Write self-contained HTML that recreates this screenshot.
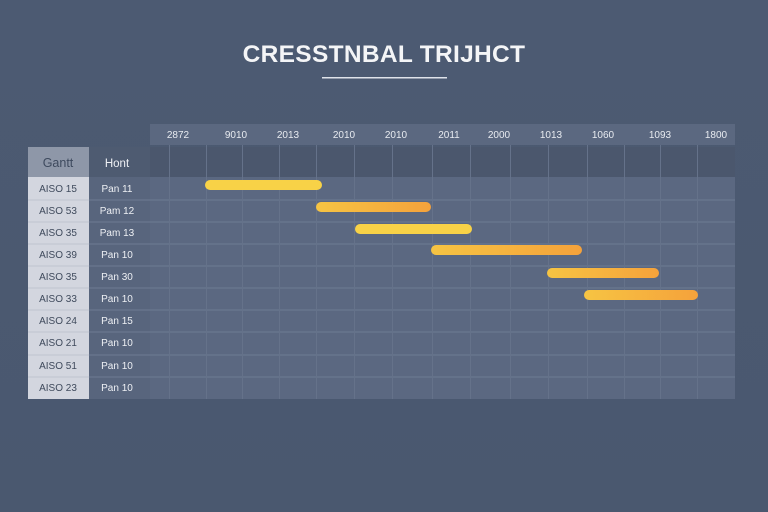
<!DOCTYPE html>
<html><head><meta charset="utf-8"><style>
html,body{margin:0;padding:0;background:#4b5a72;}
svg{display:block;}
text{font-family:"Liberation Sans",sans-serif;}
</style></head><body>
<svg width="768" height="512" viewBox="0 0 768 512" xmlns="http://www.w3.org/2000/svg">
<defs>
<linearGradient id="bg" x1="0" y1="0" x2="0" y2="1">
<stop offset="0" stop-color="#4c5a72"/><stop offset="1" stop-color="#4a586f"/>
</linearGradient>
<linearGradient id="og" x1="0" y1="0" x2="1" y2="0">
<stop offset="0" stop-color="#f6c443"/><stop offset="1" stop-color="#f5a23b"/>
</linearGradient>
</defs>
<rect width="768" height="512" fill="url(#bg)"/>
<text x="384" y="62" text-anchor="middle" font-size="24.5" font-weight="bold" fill="#f4f5f7" letter-spacing="0.3">CRESSTNBAL TRIJHCT</text>
<rect x="322" y="77" width="125" height="1.5" fill="#dfe3ea"/>
<!-- year header -->
<rect x="150" y="124" width="585" height="21" fill="#5b6880"/>
<g font-size="10" fill="#e8ebf0" text-anchor="middle">
<text x="178" y="138">2872</text><text x="236" y="138">9010</text><text x="288" y="138">2013</text>
<text x="344" y="138">2010</text><text x="396" y="138">2010</text><text x="449" y="138">2011</text>
<text x="499" y="138">2000</text><text x="551" y="138">1013</text><text x="603" y="138">1060</text>
<text x="660" y="138">1093</text><text x="716" y="138">1800</text>
</g>
<!-- header row -->
<rect x="28" y="147" width="61" height="30" fill="#8e97a8"/>
<rect x="89" y="147" width="61" height="30" fill="#4e5b71"/>
<rect x="150" y="147" width="585" height="30" fill="#4b576d"/>
<text x="58" y="167" text-anchor="middle" font-size="12.5" fill="#3e4a5e">Gantt</text>
<text x="117" y="167" text-anchor="middle" font-size="11.5" fill="#eef0f4">Hont</text>
<!-- data area -->
<rect x="28" y="177" width="61" height="222" fill="#d3d6df"/>
<rect x="89" y="177" width="61" height="222" fill="#58657d"/>
<rect x="150" y="177" width="585" height="222" fill="#5b6881"/>
<g stroke="#6e7b92" stroke-width="1">
<line x1="28" y1="200" x2="735" y2="200"/><line x1="28" y1="222" x2="735" y2="222"/>
<line x1="28" y1="244" x2="735" y2="244"/><line x1="28" y1="266" x2="735" y2="266"/>
<line x1="28" y1="288" x2="735" y2="288"/><line x1="28" y1="310" x2="735" y2="310"/>
<line x1="28" y1="332" x2="735" y2="332"/><line x1="28" y1="355" x2="735" y2="355"/>
<line x1="28" y1="377" x2="735" y2="377"/>
</g>
<g stroke="#bfc4cf" stroke-width="1">
<line x1="28" y1="200" x2="89" y2="200"/><line x1="28" y1="222" x2="89" y2="222"/>
<line x1="28" y1="244" x2="89" y2="244"/><line x1="28" y1="266" x2="89" y2="266"/>
<line x1="28" y1="288" x2="89" y2="288"/><line x1="28" y1="310" x2="89" y2="310"/>
<line x1="28" y1="332" x2="89" y2="332"/><line x1="28" y1="355" x2="89" y2="355"/>
<line x1="28" y1="377" x2="89" y2="377"/>
</g>
<g stroke="#65728a" stroke-width="1">
<line x1="169.5" y1="145" x2="169.5" y2="399"/><line x1="206.5" y1="145" x2="206.5" y2="399"/>
<line x1="242.5" y1="145" x2="242.5" y2="399"/><line x1="279.5" y1="145" x2="279.5" y2="399"/>
<line x1="316.5" y1="145" x2="316.5" y2="399"/><line x1="354.5" y1="145" x2="354.5" y2="399"/>
<line x1="392.5" y1="145" x2="392.5" y2="399"/><line x1="432.5" y1="145" x2="432.5" y2="399"/>
<line x1="470.5" y1="145" x2="470.5" y2="399"/><line x1="510.5" y1="145" x2="510.5" y2="399"/>
<line x1="548.5" y1="145" x2="548.5" y2="399"/><line x1="587.5" y1="145" x2="587.5" y2="399"/>
<line x1="624.5" y1="145" x2="624.5" y2="399"/><line x1="660.5" y1="145" x2="660.5" y2="399"/>
<line x1="697.5" y1="145" x2="697.5" y2="399"/>
</g>
<g font-size="10" fill="#3f4a5c" text-anchor="middle">
<text x="58" y="192">AISO 15</text><text x="58" y="214">AISO 53</text><text x="58" y="236">AISO 35</text>
<text x="58" y="258">AISO 39</text><text x="58" y="280">AISO 35</text><text x="58" y="302">AISO 33</text>
<text x="58" y="324">AISO 24</text><text x="58" y="346">AISO 21</text><text x="58" y="369">AISO 51</text>
<text x="58" y="391">AISO 23</text>
</g>
<g font-size="10" fill="#eef0f4" text-anchor="middle">
<text x="117" y="192">Pan 11</text><text x="117" y="214">Pam 12</text><text x="117" y="236">Pam 13</text>
<text x="117" y="258">Pan 10</text><text x="117" y="280">Pan 30</text><text x="117" y="302">Pan 10</text>
<text x="117" y="324">Pan 15</text><text x="117" y="346">Pan 10</text><text x="117" y="369">Pan 10</text>
<text x="117" y="391">Pan 10</text>
</g>
<!-- bars -->
<rect x="205" y="180" width="117" height="10" rx="5" fill="#f8d247"/>
<rect x="316" y="202" width="115" height="10" rx="5" fill="url(#og)"/>
<rect x="355" y="224" width="117" height="10" rx="5" fill="#f8d247"/>
<rect x="431" y="245" width="151" height="10" rx="5" fill="url(#og)"/>
<rect x="547" y="268" width="112" height="10" rx="5" fill="url(#og)"/>
<rect x="584" y="290" width="114" height="10" rx="5" fill="url(#og)"/>
</svg>
</body></html>
